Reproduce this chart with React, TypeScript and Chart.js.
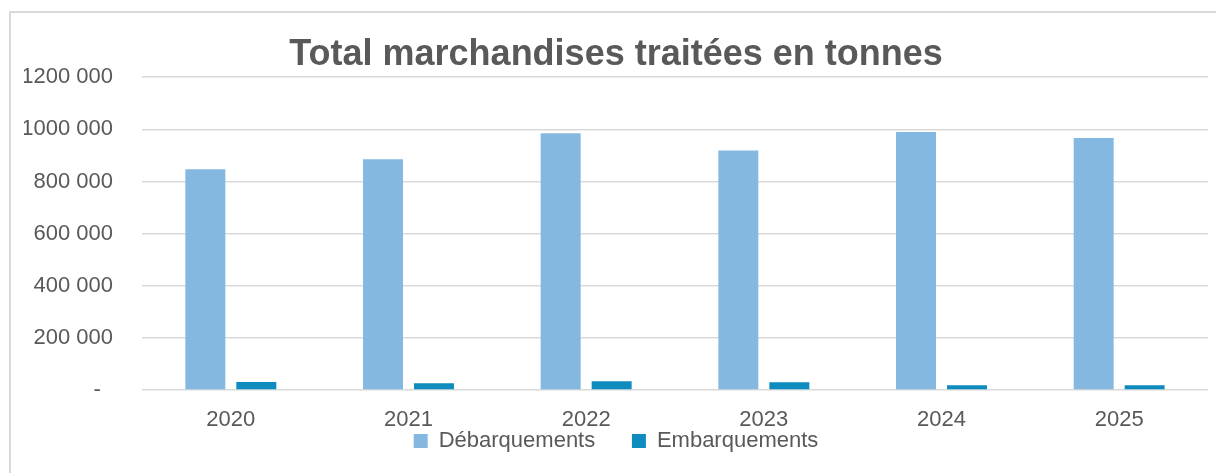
import React, { useEffect, useRef } from "react";
import { Chart, registerables } from "chart.js";

Chart.register(...registerables);

const title = "Total marchandises traitées en tonnes";
const categories = ["2020", "2021", "2022", "2023", "2024", "2025"];
const seriesNames = ["Débarquements", "Embarquements"];
const debarquements = [847000, 885000, 985000, 919000, 990000, 967000];
const embarquements = [31000, 26000, 34000, 29500, 18000, 18000];
const yTickValues = [0, 200000, 400000, 600000, 800000, 1000000, 1200000];
const yTickLabels = ["-  ", "200 000", "400 000", "600 000", "800 000", "1000 000", "1200 000"];
const seriesColors = ["#85b8e0", "#0e8bbf"];

const TEXT = "#595959";
const GRID = "#d9d9d9";
const FONT = "'Liberation Sans', Arial, sans-serif";

export default function App() {
  const ref = useRef<HTMLCanvasElement | null>(null);

  useEffect(() => {
    if (!ref.current) return;
    const chart = new Chart(ref.current, {
      type: "bar",
      data: {
        labels: categories,
        datasets: [
          {
            label: seriesNames[0],
            data: debarquements,
            backgroundColor: seriesColors[0],
            categoryPercentage: 0.574,
            barPercentage: 0.784,
          },
          {
            label: seriesNames[1],
            data: embarquements,
            backgroundColor: seriesColors[1],
            categoryPercentage: 0.574,
            barPercentage: 0.784,
          },
        ],
      },
      options: {
        responsive: false,
        animation: false,
        devicePixelRatio: 1,
        layout: { padding: { left: 24, right: 8, top: 0, bottom: 11 } },
        plugins: {
          title: {
            display: true,
            text: title,
            color: TEXT,
            font: { family: FONT, size: 36, weight: "bold" },
            padding: { top: 33, bottom: 1 },
          },
          legend: {
            position: "bottom",
            labels: {
              color: TEXT,
              font: { family: FONT, size: 22 },
              boxWidth: 14,
              boxHeight: 14,
              padding: 0,
              generateLabels: (c: any) => {
                const items = Chart.defaults.plugins.legend.labels.generateLabels(c);
                return items.map((it: any, i: number) =>
                  i < items.length - 1 ? { ...it, text: it.text + "      " } : it
                );
              },
            },
          },
          tooltip: { enabled: false },
        },
        scales: {
          x: {
            grid: { display: false, drawTicks: false },
            border: { display: false },
            ticks: {
              color: TEXT,
              font: { family: FONT, size: 22 },
              padding: 17,
            },
            afterFit: (scale: any) => {
              scale.height = 40;
            },
          },
          y: {
            min: 0,
            max: 1200000,
            afterBuildTicks: (scale: any) => {
              scale.ticks = yTickValues.map((v) => ({ value: v }));
            },
            grid: { color: GRID, lineWidth: 1.5, drawTicks: false },
            border: { display: false },
            ticks: {
              color: TEXT,
              font: { family: FONT, size: 22 },
              padding: 29,
              callback: (value: any) => {
                const i = yTickValues.indexOf(Number(value));
                return i >= 0 ? yTickLabels[i] : "";
              },
            },
            afterFit: (scale: any) => {
              scale.width = 118;
            },
          },
        },
      },
    });
    return () => chart.destroy();
  }, []);

  return (
    <div
      style={{
        position: "fixed",
        left: 0,
        top: 0,
        width: 1216,
        height: 473,
        overflow: "hidden",
        background: "#ffffff",
      }}
    >
      <div
        style={{
          position: "absolute",
          left: 9,
          top: 11,
          width: 1400,
          height: 700,
          border: "2px solid " + GRID,
          boxSizing: "border-box",
        }}
      />
      <canvas
        ref={ref}
        width={1216}
        height={473}
        style={{ position: "absolute", left: 0, top: 0, width: 1216, height: 473 }}
      />
    </div>
  );
}
